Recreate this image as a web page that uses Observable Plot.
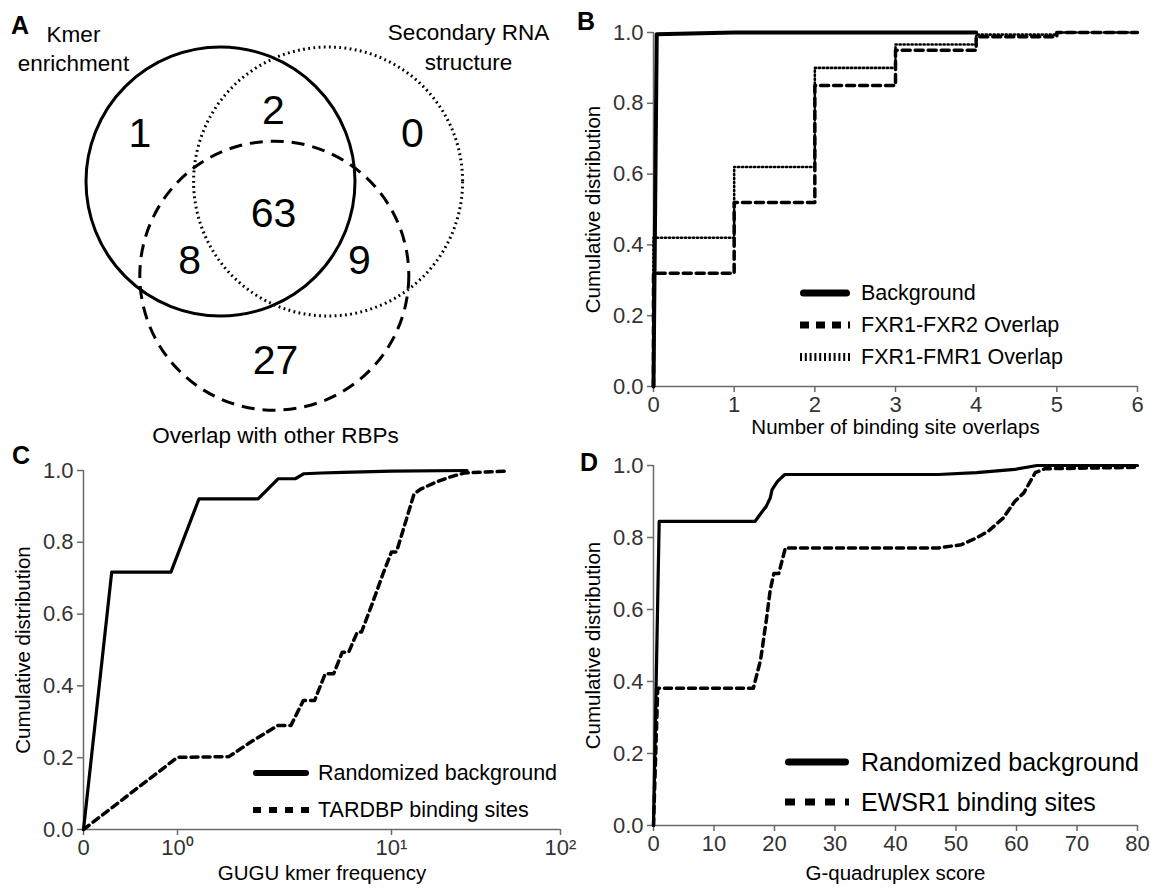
<!DOCTYPE html>
<html>
<head>
<meta charset="utf-8">
<script src="https://cdn.jsdelivr.net/npm/d3@7"></script>
<script src="https://cdn.jsdelivr.net/npm/@observablehq/plot@0.6"></script>
<style>
  body { margin: 0; background: #fff; }
  #fig { position: relative; width: 1150px; height: 890px; overflow: hidden; background: #fff;
         font-family: "Liberation Sans", Arial, Helvetica, sans-serif; }
  .letter { position: absolute; font-weight: bold; font-size: 25px; line-height: 1; color: #000; }
</style>
</head>
<body>
<div id="fig"></div>
<script>
// ---------------- DATA ----------------
// Panel A: Venn diagram
const vennSets = ["Kmer\nenrichment", "Secondary RNA\nstructure", "Overlap with other RBPs"];
const vennRegions = ["Kmer only", "Kmer & structure", "Structure only", "All three",
                     "Kmer & overlap", "Structure & overlap", "Overlap only"];
const vennCounts = [1, 2, 0, 63, 8, 9, 27];

// Panel B: number of binding site overlaps
const bSeriesNames = ["Background", "FXR1-FXR2 Overlap", "FXR1-FMR1 Overlap"];
const bBackgroundX = [0, 0.04, 1, 4];
const bBackgroundY = [0, 0.995, 1.0, 1.0];
const bOverlaps = [0, 1, 2, 3, 4, 5, 6];
const bFXR2 = [0.32, 0.52, 0.85, 0.95, 0.988, 1.0, 1.0];
const bFMR1 = [0.42, 0.62, 0.90, 0.966, 0.994, 1.0, 1.0];

// Panel C: GUGU kmer frequency
const cSeriesNames = ["Randomized background", "TARDBP binding sites"];
const cBgFreq = [0, 0.30, 0.93, 1.26, 2.38, 2.95, 3.55, 3.9, 4.7, 5.9, 10, 28];
const cBgCdf  = [0, 0.717, 0.717, 0.921, 0.921, 0.977, 0.977, 0.991, 0.993, 0.995, 0.998, 1.0];
const cTarFreq = [0, 1, 1.74, 2.19, 2.95, 3.39, 3.87, 4.37, 4.9, 5.37, 5.89, 6.31, 6.92, 7.24,
                  8.13, 9.12, 10, 10.7, 11.7, 13.6, 15, 18.2, 21.9, 26.9, 46.8];
const cTarCdf  = [0, 0.201, 0.203, 0.243, 0.29, 0.29, 0.359, 0.359, 0.434, 0.434, 0.494, 0.494, 0.55, 0.55,
                  0.629, 0.712, 0.773, 0.773, 0.833, 0.935, 0.949, 0.967, 0.981, 0.993, 0.998];
const cTickValues = [0, 1, 10, 100];
const cTickLabels = ["0", "10\u2070", "10\u00B9", "10\u00B2"];

// Panel D: G-quadruplex score
const dSeriesNames = ["Randomized background", "EWSR1 binding sites"];
const dBgScore = [0, 0.94, 16.8, 17.7, 18.65, 19.3, 19.6, 20.5, 21.7, 47.1, 53.4, 59.7, 63.4, 80];
const dBgCdf   = [0, 0.845, 0.845, 0.866, 0.887, 0.91, 0.933, 0.956, 0.975, 0.975, 0.98, 0.989, 1.0, 1.0];
const dEwsScore = [0, 0.7, 16.5, 17.7, 18.65, 19.3, 19.9, 20.7, 21.8, 47.1, 50.9, 53.4, 55.3, 57.8,
                   59.7, 61.2, 63.1, 64.7, 80];
const dEwsCdf   = [0, 0.381, 0.381, 0.46, 0.571, 0.655, 0.70, 0.70, 0.771, 0.771, 0.78, 0.799, 0.817, 0.854,
                   0.90, 0.924, 0.98, 0.991, 0.995];

const cdfTicks = [0, 0.2, 0.4, 0.6, 0.8, 1.0];
const yTitle = "Cumulative distribution";

// ---------------- LAYOUT / STYLE ----------------
const FONT = '"Liberation Sans", Arial, Helvetica, sans-serif';
const AXIS = "#6a6a6a";
const TICKTXT = "#333";
const fig = document.getElementById("fig");

function put(node, left, top) {
  node.style.position = "absolute";
  node.style.left = left + "px";
  node.style.top = top + "px";
  fig.appendChild(node);
}
function letter(t, left, top) {
  const d = document.createElement("div");
  d.className = "letter"; d.textContent = t;
  d.style.left = left + "px"; d.style.top = top + "px";
  fig.appendChild(d);
}
function legend(items, {left, centers, sampleW, gap, fontSize}) {
  items.forEach((it, i) => {
    const row = document.createElement("div");
    row.style.cssText = `position:absolute;left:${left}px;top:${centers[i] - 20}px;height:40px;display:flex;align-items:center;white-space:nowrap;font-size:${fontSize}px;color:#000;`;
    const sw = it.sw;
    const pad = it.cap === "round" ? sw / 2 : 0;
    row.innerHTML = `<svg width="${sampleW}" height="20" style="margin-right:${gap}px;overflow:visible">` +
      `<line x1="${pad}" x2="${sampleW - pad}" y1="10" y2="10" stroke="#000" stroke-width="${sw}"` +
      (it.dash ? ` stroke-dasharray="${it.dash}"` : "") + ` stroke-linecap="${it.cap || "butt"}"/></svg>` +
      `<span>${it.label}</span>`;
    fig.appendChild(row);
  });
}
const baseStyle = {fontFamily: FONT, fontSize: "22px", color: "#000", background: "none", overflow: "visible"};

function axes({xTicks, xFormat, xTitle, xTitleDy, yTitleDx}) {
  return [
    Plot.ruleX([0], {stroke: AXIS, strokeWidth: 1.5}),
    Plot.ruleY([0], {stroke: AXIS, strokeWidth: 1.5}),
    Plot.axisX({ticks: xTicks, tickFormat: xFormat, tickSize: 6, tickPadding: 4, label: null,
                stroke: AXIS, strokeWidth: 1.5, fill: TICKTXT, fontSize: 22}),
    Plot.axisY({ticks: cdfTicks, tickFormat: d3.format(".1f"), tickSize: 6, tickPadding: 4, label: null,
                stroke: AXIS, strokeWidth: 1.5, fill: TICKTXT, fontSize: 22}),
    Plot.text([xTitle], {text: d => d, frameAnchor: "bottom", dy: xTitleDy, lineAnchor: "middle",
                         fontSize: 20.5, fill: "#000"}),
    Plot.text([yTitle], {text: d => d, frameAnchor: "left", dx: yTitleDx, rotate: -90, lineAnchor: "middle",
                         textAnchor: "middle", fontSize: 20.5, fill: "#000"})
  ];
}

// ---------------- PANEL A: Venn ----------------
const vennUnit = 134.5; // radius of each circle in px
const vennCircles = [
  {set: vennSets[0], u: 0,   v: 0,   dash: null,      sw: 3},
  {set: vennSets[1], u: 0.8, v: 0,   dash: "1.8,3.4", sw: 3},
  {set: vennSets[2], u: 0.4, v: 0.7, dash: "13,8",    sw: 3}
];
const vennRegionPos = [
  [-0.60, -0.357], [0.394, -0.528], [1.427, -0.357], [0.394, 0.238],
  [-0.23, 0.587], [1.033, 0.587], [0.409, 1.33]
];
const vennLabelPos = [[-1.093, -1.0], [1.844, -1.01], [0.409, 1.874]];
const vennRegionData = vennCounts.map((c, i) => ({region: vennRegions[i], count: c,
  u: vennRegionPos[i][0], v: vennRegionPos[i][1]}));
const vennLabelData = vennSets.map((s, i) => ({label: s, u: vennLabelPos[i][0], v: vennLabelPos[i][1]}));

const venn = Plot.plot({
  width: 560, height: 440, margin: 0,
  x: {domain: [-220 / vennUnit, 340 / vennUnit], range: [0, 560], axis: null},
  y: {domain: [-181 / vennUnit, 259 / vennUnit], range: [0, 440], axis: null},
  style: baseStyle,
  marks: [
    ...vennCircles.map(c => Plot.dot([c], {x: "u", y: "v", r: vennUnit, fill: "none", stroke: "#000",
      strokeWidth: c.sw, strokeDasharray: c.dash || undefined})),
    Plot.text(vennRegionData, {x: "u", y: "v", text: d => String(d.count), fontSize: 41, fill: "#000"}),
    Plot.text(vennLabelData, {x: "u", y: "v", text: "label", fontSize: 22.5, fill: "#000", lineHeight: 1.3})
  ]
});
put(venn, 0, 0);

// ---------------- PANEL B ----------------
const bBg = bBackgroundX.map((x, i) => ({x, y: bBackgroundY[i]}));
const bF2 = [{x: 0, y: 0}, ...bOverlaps.map((x, i) => ({x, y: bFXR2[i]}))];
const bF1 = [{x: 0, y: 0}, ...bOverlaps.map((x, i) => ({x, y: bFMR1[i]}))];
const panelB = Plot.plot({
  width: 590, height: 440, marginLeft: 93, marginRight: 13, marginTop: 32, marginBottom: 54,
  x: {domain: [0, 6]}, y: {domain: [0, 1]},
  style: baseStyle,
  marks: [
    ...axes({xTicks: bOverlaps, xFormat: d => String(d), xTitle: "Number of binding site overlaps",
             xTitleDy: 41, yTitleDx: -60}),
    Plot.line(bBg, {x: "x", y: "y", stroke: "#000", strokeWidth: 4}),
    Plot.line(bF2, {x: "x", y: "y", curve: "step-after", stroke: "#000", strokeWidth: 3.5, strokeDasharray: "8,5"}),
    Plot.line(bF1, {x: "x", y: "y", curve: "step-after", stroke: "#000", strokeWidth: 2.6, strokeDasharray: "1.2,2.8"})
  ]
});
put(panelB, 560, 0);

// ---------------- PANEL C ----------------
const cPos = f => f <= 1 ? f : 1 + Math.log10(f);
const cBg = cBgFreq.map((f, i) => ({f, y: cBgCdf[i]}));
const cTar = cTarFreq.map((f, i) => ({f, y: cTarCdf[i]}));
const panelC = Plot.plot({
  width: 560, height: 450, marginLeft: 83, marginRight: 0, marginTop: 30, marginBottom: 61,
  x: {type: "linear", domain: cTickValues.map(cPos), range: [83, 177, 391, 560]},
  y: {domain: [0, 1]},
  style: baseStyle,
  marks: [
    ...axes({xTicks: cTickValues.map(cPos), xFormat: (d, i) => cTickLabels[i], xTitle: "GUGU kmer frequency",
             xTitleDy: 44, yTitleDx: -60}),
    Plot.line(cBg, {x: d => cPos(d.f), y: "y", stroke: "#000", strokeWidth: 3.2}),
    Plot.line(cTar, {x: d => cPos(d.f), y: "y", stroke: "#000", strokeWidth: 3.5, strokeDasharray: "7,5"})
  ]
});
put(panelC, 0, 440);

// ---------------- PANEL D ----------------
const dBg = dBgScore.map((x, i) => ({x, y: dBgCdf[i]}));
const dEw = dEwsScore.map((x, i) => ({x, y: dEwsCdf[i]}));
const panelD = Plot.plot({
  width: 590, height: 450, marginLeft: 93, marginRight: 13, marginTop: 25, marginBottom: 65,
  x: {domain: [0, 80]}, y: {domain: [0, 1]},
  style: baseStyle,
  marks: [
    ...axes({xTicks: d3.range(0, 81, 10), xFormat: d => String(d), xTitle: "G-quadruplex score",
             xTitleDy: 48, yTitleDx: -60}),
    Plot.line(dBg, {x: "x", y: "y", stroke: "#000", strokeWidth: 3.2}),
    Plot.line(dEw, {x: "x", y: "y", stroke: "#000", strokeWidth: 3.5, strokeDasharray: "7,5"})
  ]
});
put(panelD, 560, 440);

// ---------------- LETTERS & LEGENDS ----------------
letter("A", 11, 13);
letter("B", 577, 9);
letter("C", 12, 443);
letter("D", 580, 450);

legend([
  {label: bSeriesNames[0], sw: 7, cap: "round"},
  {label: bSeriesNames[1], sw: 7, dash: "9,7"},
  {label: bSeriesNames[2], sw: 8, dash: "2,2.8"}
], {left: 800, centers: [293, 325, 357], sampleW: 50, gap: 11, fontSize: 21.5});

legend([
  {label: cSeriesNames[0], sw: 6, cap: "round"},
  {label: cSeriesNames[1], sw: 6, dash: "8,8"}
], {left: 253, centers: [773, 810], sampleW: 56, gap: 9, fontSize: 21.5});

legend([
  {label: dSeriesNames[0], sw: 7, cap: "round"},
  {label: dSeriesNames[1], sw: 7, dash: "10,10"}
], {left: 785, centers: [762, 802], sampleW: 64, gap: 12, fontSize: 25});
</script>
</body>
</html>
